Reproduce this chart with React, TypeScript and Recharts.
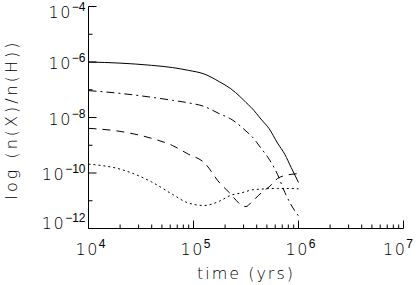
import React from 'react';
import { LineChart, Line, XAxis, YAxis } from 'recharts';

// time in log10(yrs); abundances in log10(n(X)/n(H))
const logTime = [4.0, 4.3, 4.6, 4.8, 4.95, 5.1, 5.25, 5.35, 5.45, 5.5, 5.55, 5.65, 5.72, 5.8, 5.87, 5.93, 6.0];
const solidValues = [-6.0, -6.04, -6.12, -6.2, -6.3, -6.43, -6.72, -6.95, -7.27, -7.46, -7.64, -8.09, -8.4, -8.92, -9.33, -9.8, -10.34];
const dashDotValues = [-7.03, -7.13, -7.27, -7.38, -7.47, -7.6, -7.87, -8.04, -8.32, -8.49, -8.66, -9.14, -9.5, -10.05, -10.7, -11.15, -11.55];
const dashedValues = [-8.39, -8.5, -8.75, -9.01, -9.32, -9.62, -10.36, -10.74, -11.14, -11.21, -11.06, -10.7, -10.5, -10.2, -10.09, -10.05, -10.02];
const dottedValues = [-9.68, -9.86, -10.32, -10.77, -11.08, -11.17, -11.01, -10.81, -10.72, -10.67, -10.61, -10.58, -10.56, -10.56, -10.56, -10.56, -10.57];

const xDecades = [4, 5, 6, 7];
const yDecades = [-12, -11, -10, -9, -8, -7, -6, -5, -4];

const chartData = logTime.map((t, i) => ({
    t,
    solid: solidValues[i],
    dashDot: dashDotValues[i],
    dashed: dashedValues[i],
    dotted: dottedValues[i],
}));

// decade ticks plus 2..9 minor ticks on the log time axis
const xTicks: number[] = [];
xDecades.forEach((d, i) => {
    xTicks.push(d);
    if (i < xDecades.length - 1) {
        for (let k = 2; k <= 9; k++) xTicks.push(d + Math.log10(k));
    }
});

const FONT = '"DejaVu Sans", sans-serif';
const EXP_FONT = '"Liberation Sans", Arial, sans-serif';
const isMajorX = (v: number) => Math.abs(v - Math.round(v)) < 1e-9;
const isMajorY = (v: number) => v % 2 === 0;
const expText = (v: number) => (v < 0 ? `\u2212${-v}` : `${v}`);

const BottomTick = (props: any) => {
    const { x, y, payload } = props;
    const major = isMajorX(payload.value);
    // keep the last label inside the window, like the original plot does
    const cx = Math.min(x + 2, 398);
    return (
        <g>
            <line x1={x} x2={x} y1={y} y2={y - (major ? 8 : 4)} stroke="#000" />
            {major && (
                <text x={cx} y={y + 26} textAnchor="middle" fontFamily={FONT} fontWeight={200} fontSize={16} letterSpacing={1.5} fill="#000">
                    10
                    <tspan dy={-7} fontFamily={EXP_FONT} fontSize={12} letterSpacing={0}>{expText(Math.round(payload.value))}</tspan>
                </text>
            )}
        </g>
    );
};

const TopTick = (props: any) => {
    const { x, y, payload } = props;
    const major = isMajorX(payload.value);
    return <line x1={x} x2={x} y1={y} y2={y + (major ? 8 : 4)} stroke="#000" />;
};

const LeftTick = (props: any) => {
    const { x, y, payload } = props;
    const major = isMajorY(payload.value);
    const baseline = Math.min(Math.max(y + 7, 18), 229);
    return (
        <g>
            <line x1={x} x2={x + (major ? 8 : 4)} y1={y} y2={y} stroke="#000" />
            {major && (
                <text x={x - 3} y={baseline} textAnchor="end" fontFamily={FONT} fontWeight={200} fontSize={16} letterSpacing={1.5} fill="#000">
                    10
                    <tspan dy={-7} fontFamily={EXP_FONT} fontSize={12} letterSpacing={0}>{expText(payload.value)}</tspan>
                </text>
            )}
        </g>
    );
};

const RightTick = (props: any) => {
    const { x, y, payload } = props;
    const major = isMajorY(payload.value);
    return <line x1={x} x2={x - (major ? 8 : 4)} y1={y} y2={y} stroke="#000" />;
};

const YTitle = () => (
    <text
        x={17}
        y={121}
        transform="rotate(-90 17 121)"
        textAnchor="middle"
        fontFamily={FONT}
        fontWeight={200}
        fontSize={16}
        textLength={157}
        lengthAdjust="spacing"
        fill="#000"
    >
        log (n(X)/n(H))
    </text>
);

const XTitle = () => (
    <text x={245} y={279} textAnchor="middle" fontFamily={FONT} fontWeight={200} fontSize={16} textLength={96} lengthAdjust="spacing" fill="#000">
        time (yrs)
    </text>
);

const SpeciesTitle = () => (
    <text x={340} y={38} fontFamily={FONT} fontWeight={200} fontSize={18} textLength={42} lengthAdjust="spacing" fill="#000">
        h2s
    </text>
);

export default function App() {
    return (
        <div style={{ position: 'absolute', left: 0, top: 0, width: 418, height: 285, background: '#fff' }}>
            <LineChart width={418} height={285} data={chartData} margin={{ top: 6.5, right: 14.5, left: 0.5, bottom: 0 }}>
                <XAxis
                    xAxisId="bottom"
                    dataKey="t"
                    type="number"
                    domain={[4, 7]}
                    ticks={xTicks}
                    interval={0}
                    height={56.5}
                    tickSize={0}
                    tickMargin={0}
                    tickLine={false}
                    tick={<BottomTick />}
                    axisLine={{ stroke: '#000' }}
                    label={XTitle}
                />
                <XAxis
                    xAxisId="top"
                    orientation="top"
                    dataKey="t"
                    type="number"
                    domain={[4, 7]}
                    ticks={xTicks}
                    interval={0}
                    height={0}
                    tickSize={0}
                    tickMargin={0}
                    tickLine={false}
                    tick={<TopTick />}
                    axisLine={{ stroke: '#000' }}
                    label={SpeciesTitle}
                />
                <YAxis
                    yAxisId="left"
                    type="number"
                    domain={[-12, -4]}
                    ticks={yDecades}
                    interval={0}
                    width={88}
                    tickSize={0}
                    tickMargin={0}
                    tickLine={false}
                    tick={<LeftTick />}
                    axisLine={{ stroke: '#000' }}
                    label={YTitle}
                />
                <YAxis
                    yAxisId="right"
                    orientation="right"
                    type="number"
                    domain={[-12, -4]}
                    ticks={yDecades}
                    interval={0}
                    width={0}
                    tickSize={0}
                    tickMargin={0}
                    tickLine={false}
                    tick={<RightTick />}
                    axisLine={{ stroke: '#000' }}
                />
                <Line xAxisId="bottom" yAxisId="left" type="monotone" dataKey="solid" stroke="#000" strokeWidth={1} dot={false} isAnimationActive={false} />
                <Line xAxisId="bottom" yAxisId="left" type="monotone" dataKey="dashDot" stroke="#000" strokeWidth={1} strokeDasharray="8 4 2 4" dot={false} isAnimationActive={false} />
                <Line xAxisId="bottom" yAxisId="left" type="monotone" dataKey="dashed" stroke="#000" strokeWidth={1} strokeDasharray="8 6" dot={false} isAnimationActive={false} />
                <Line xAxisId="bottom" yAxisId="left" type="monotone" dataKey="dotted" stroke="#000" strokeWidth={1} strokeDasharray="2 3" dot={false} isAnimationActive={false} />
            </LineChart>
        </div>
    );
}
